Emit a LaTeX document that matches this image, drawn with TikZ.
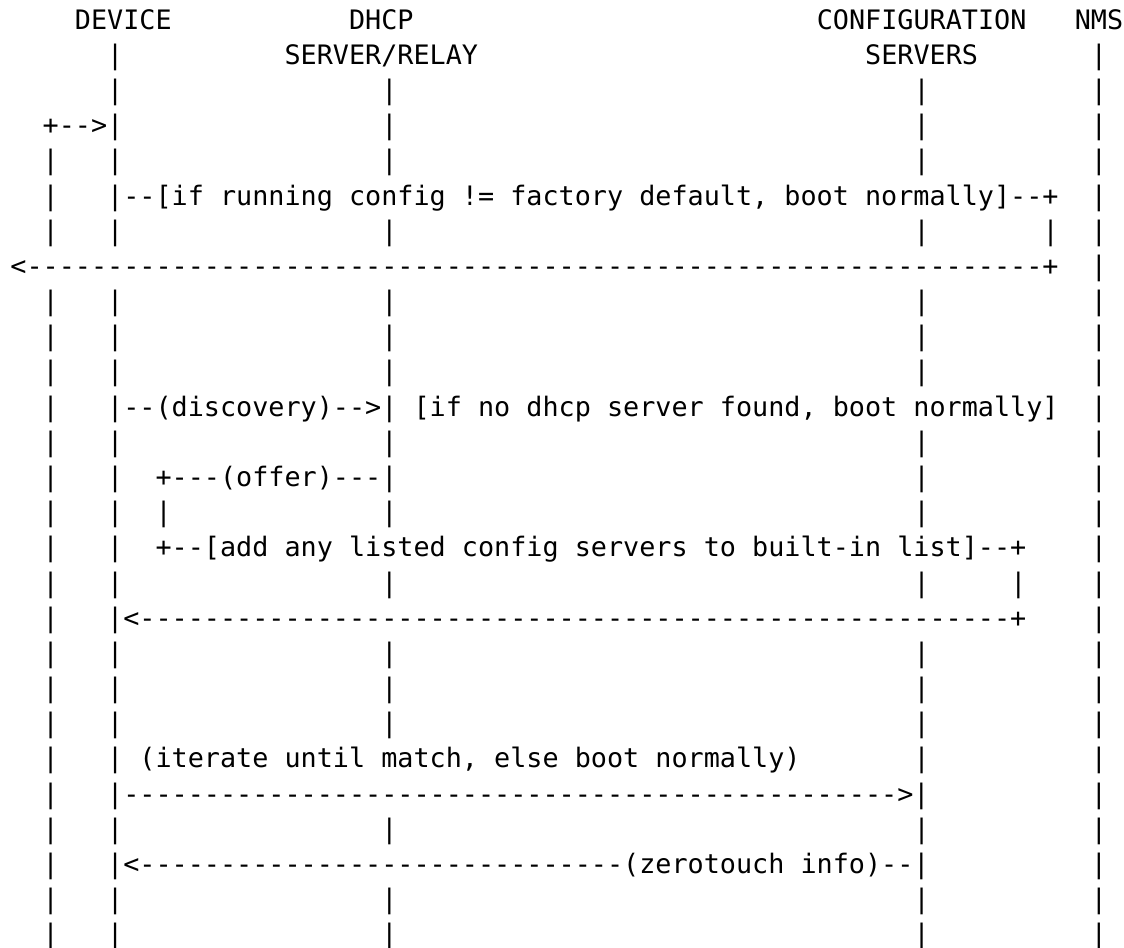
\documentclass[tikz,border=0pt]{standalone}
\usepackage{fontspec}
\setmonofont{DejaVu Sans Mono}

% rows of the boot sequence, spaces kept as typed (\relax keeps the leading ones)
{\obeyspaces%
\gdef\hdrNames{\relax    DEVICE           DHCP                         CONFIGURATION   NMS}%
\gdef\hdrRoles{\relax      |          SERVER/RELAY                        SERVERS       |}%
\gdef\lifeTop{\relax      |                |                                |          |}%
\gdef\loopIn{\relax  +-->|                |                                |          |}%
\gdef\lifeAll{\relax  |   |                |                                |          |}%
\gdef\bootCheck{\relax  |   |--[if running config != factory default, boot normally]--+  |}%
\gdef\bootStub{\relax  |   |                |                                |       |  |}%
\gdef\bootReturn{\relax<---------------------------------------------------------------+  |}%
\gdef\discoveryMsg{\relax  |   |--(discovery)-->| [if no dhcp server found, boot normally]  |}%
\gdef\offerMsg{\relax  |   |  +---(offer)---|                                |          |}%
\gdef\offerStub{\relax  |   |  |             |                                |          |}%
\gdef\addServers{\relax  |   |  +--[add any listed config servers to built-in list]--+    |}%
\gdef\addStub{\relax  |   |                |                                |     |    |}%
\gdef\addReturn{\relax  |   |<------------------------------------------------------+    |}%
\gdef\iterateNote{\relax  |   | (iterate until match, else boot normally)       |          |}%
\gdef\iterateMsg{\relax  |   |------------------------------------------------>|          |}%
\gdef\infoMsg{\relax  |   |<------------------------------(zerotouch info)--|          |}%
}

\begin{document}
\begin{tikzpicture}[x=0.75pt,y=0.75pt,yscale=-1,xscale=1,
  asciirow/.style={anchor=base west,inner sep=0pt,font=\ttfamily\frenchspacing\fontsize{20.09pt}{24pt}\selectfont}]
%set diagram left start at 0, and has height of 948
\useasboundingbox (0,0) rectangle (1124,948);

% Text Node
\node[asciirow] (r1) at (10.15,29.3) {\hdrNames};
% Text Node
\node[asciirow] (r2) at (10.15,64.47) {\hdrRoles};
% Text Node
\node[asciirow] (r3) at (10.15,99.64) {\lifeTop};
% Text Node
\node[asciirow] (r4) at (10.15,134.81) {\loopIn};
% Text Node
\node[asciirow] (r5) at (10.15,169.98) {\lifeAll};
% Text Node
\node[asciirow] (r6) at (10.15,205.15) {\bootCheck};
% Text Node
\node[asciirow] (r7) at (10.15,240.32) {\bootStub};
% Text Node
\node[asciirow] (r8) at (10.15,275.49) {\bootReturn};
% Text Node
\node[asciirow] (r9) at (10.15,310.66) {\lifeAll};
% Text Node
\node[asciirow] (r10) at (10.15,345.83) {\lifeAll};
% Text Node
\node[asciirow] (r11) at (10.15,381) {\lifeAll};
% Text Node
\node[asciirow] (r12) at (10.15,416.17) {\discoveryMsg};
% Text Node
\node[asciirow] (r13) at (10.15,451.34) {\lifeAll};
% Text Node
\node[asciirow] (r14) at (10.15,486.51) {\offerMsg};
% Text Node
\node[asciirow] (r15) at (10.15,521.68) {\offerStub};
% Text Node
\node[asciirow] (r16) at (10.15,556.85) {\addServers};
% Text Node
\node[asciirow] (r17) at (10.15,592.02) {\addStub};
% Text Node
\node[asciirow] (r18) at (10.15,627.19) {\addReturn};
% Text Node
\node[asciirow] (r19) at (10.15,662.36) {\lifeAll};
% Text Node
\node[asciirow] (r20) at (10.15,697.53) {\lifeAll};
% Text Node
\node[asciirow] (r21) at (10.15,732.7) {\lifeAll};
% Text Node
\node[asciirow] (r22) at (10.15,767.87) {\iterateNote};
% Text Node
\node[asciirow] (r23) at (10.15,803.04) {\iterateMsg};
% Text Node
\node[asciirow] (r24) at (10.15,838.21) {\lifeAll};
% Text Node
\node[asciirow] (r25) at (10.15,873.38) {\infoMsg};
% Text Node
\node[asciirow] (r26) at (10.15,908.55) {\lifeAll};
% Text Node
\node[asciirow] (r27) at (10.15,943.72) {\lifeAll};

\end{tikzpicture}
\end{document}
